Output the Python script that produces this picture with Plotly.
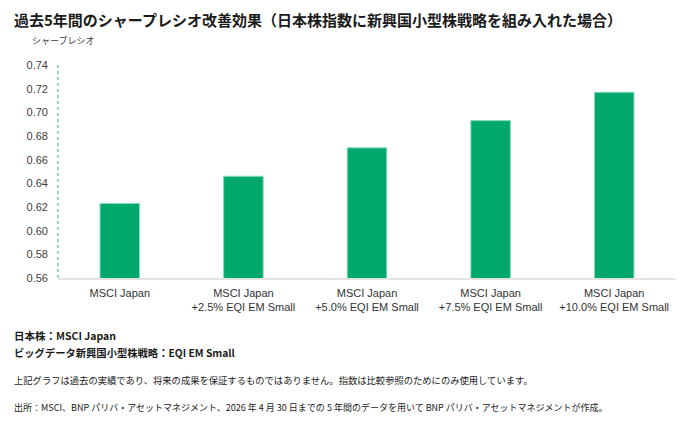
import plotly.graph_objects as go

# data
categories = ["MSCI Japan",
              "MSCI Japan<br>+2.5% EQI EM Small",
              "MSCI Japan<br>+5.0% EQI EM Small",
              "MSCI Japan<br>+7.5% EQI EM Small",
              "MSCI Japan<br>+10.0% EQI EM Small"]
sharpe = [0.623, 0.646, 0.670, 0.693, 0.717]
y_ticks = [0.56, 0.58, 0.60, 0.62, 0.64, 0.66, 0.68, 0.70, 0.72, 0.74]

GREEN = "#00A86B"
EDGE = "#8ED9BC"
TEAL = "#2AA7A0"
INK = "#1A1A1A"
TXT = "#404040"
JP = "Noto Sans CJK JP"
LAT = "Liberation Sans, Arial, sans-serif"

# the page body has an 8px margin, so the figure is drawn 8px in from the window edge
OFF = 8
W, H = 695 - OFF, 422 - OFF
L, R, T, B = 50, 19, 57, 144
PW, PH = W - L - R, H - T - B


def px(x):
    # window pixel -> paper x
    return (x - OFF - L) / PW


def py(y):
    # window pixel -> paper y
    return (H - B - (y - OFF)) / PH


fig = go.Figure(go.Bar(
    x=categories, y=sharpe, marker=dict(color=GREEN, line=dict(color=EDGE, width=1)),
    width=0.32, hoverinfo="skip"))

fig.update_yaxes(range=[0.56, 0.74], tickvals=y_ticks, tickformat=".2f",
                 showgrid=False, zeroline=False, showline=False,
                 tickfont=dict(family=LAT, size=11, color=TXT), ticklabelstandoff=9)
fig.update_xaxes(showline=True, linecolor="#E3E3E3", linewidth=1.5, showgrid=False,
                 tickfont=dict(family=LAT, size=11, color="#333333"), ticklabelstandoff=4)

# dashed teal y-axis line
fig.add_shape(type="line", xref="paper", yref="y", x0=0, x1=0, y0=0.56, y1=0.74,
              line=dict(color=TEAL, width=1, dash="dot"))


def note(text, x, y, size, bold=False, color=INK, family=JP):
    if bold:
        text = f"<b>{text}</b>"
    fig.add_annotation(text=text, xref="paper", yref="paper", x=px(x), y=py(y),
                       xanchor="left", yanchor="middle", showarrow=False,
                       font=dict(size=size, color=color, family=family))


note("過去5年間のシャープレシオ改善効果（日本株指数に新興国小型株戦略を組み入れた場合）", 12, 19, 15, bold=True)
note("シャープレシオ", 30, 41, 9, color=TXT)
note("日本株：MSCI Japan", 12, 335, 10.5, bold=True)
note("ビッグデータ新興国小型株戦略：EQI EM Small", 12, 352, 10.3, bold=True)
note("上記グラフは過去の実績であり、将来の成果を保証するものではありません。指数は比較参照のためにのみ使用しています。",
     12, 380, 9.3)
note("出所：MSCI、BNP パリバ・アセットマネジメント、2026 年 4 月 30 日までの 5 年間のデータを用いて BNP パリバ・アセットマネジメントが作成。",
     12, 407, 9.0)

fig.update_layout(width=W, height=H, margin=dict(l=L, r=R, t=T, b=B),
                  paper_bgcolor="white", plot_bgcolor="white", showlegend=False,
                  font=dict(family=JP, color=INK))

fig.write_html("out.html")
